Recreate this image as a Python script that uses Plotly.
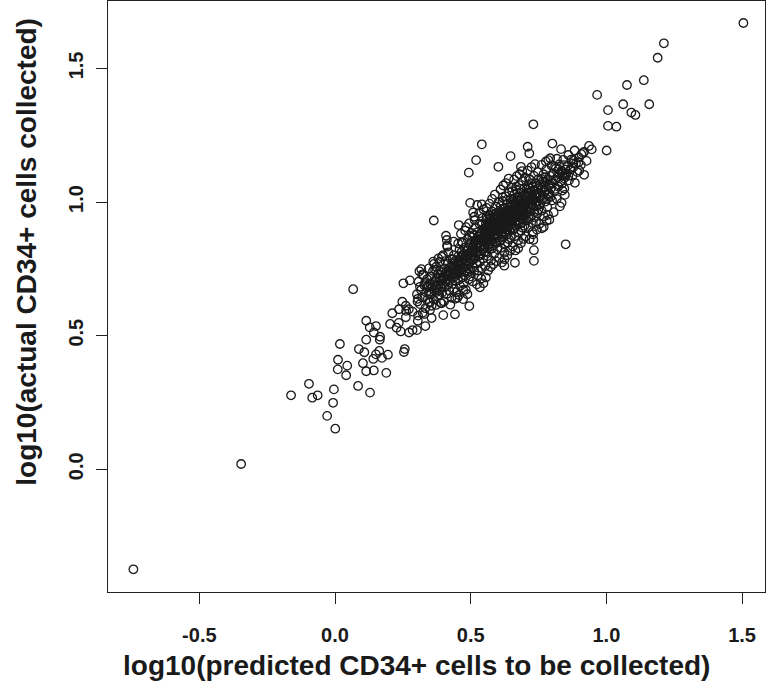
import plotly.graph_objects as go

# (predicted, actual) pairs, grouped by region
tail_pts = [
    (-0.743, -0.374), (-0.346, 0.020),
    (-0.162, 0.277), (-0.096, 0.320), (-0.084, 0.268), (-0.064, 0.277),
    (-0.004, 0.299), (-0.007, 0.249), (-0.029, 0.200), (0.001, 0.152),
    (0.018, 0.469), (0.011, 0.410), (0.010, 0.374), (0.045, 0.388),
    (0.041, 0.352), (0.085, 0.312), (0.129, 0.287), (0.088, 0.450),
    (0.108, 0.438), (0.103, 0.397), (0.115, 0.367), (0.143, 0.370),
    (0.189, 0.361), (0.115, 0.485), (0.165, 0.485), (0.141, 0.413),
    (0.151, 0.430), (0.163, 0.443), (0.173, 0.417), (0.195, 0.429),
    (0.115, 0.556), (0.128, 0.531), (0.151, 0.536), (0.143, 0.512),
    (0.257, 0.450), (0.254, 0.439), (0.203, 0.544), (0.227, 0.530),
    (0.211, 0.584), (0.236, 0.599), (0.235, 0.548), (0.248, 0.627),
    (0.261, 0.612), (0.262, 0.593), (0.272, 0.599), (0.286, 0.590),
    (0.261, 0.569), (0.242, 0.516), (0.273, 0.512), (0.286, 0.521),
    (0.302, 0.521), (0.305, 0.638), (0.306, 0.575), (0.305, 0.556),
    (0.333, 0.536), (0.329, 0.581), (0.356, 0.566), (0.350, 0.596),
    (0.348, 0.625), (0.372, 0.615), (0.351, 0.664), (0.375, 0.664),
    (0.067, 0.674), (0.166, 0.496),
]

mid_pts = [
    (0.364, 0.931), (0.498, 0.997), (0.456, 0.914), (0.409, 0.874),
    (0.412, 0.858), (0.414, 0.833), (0.483, 0.906), (0.494, 0.920),
    (0.513, 0.945), (0.541, 0.991), (0.524, 0.989), (0.571, 0.949),
    (0.454, 0.845), (0.468, 0.851), (0.434, 0.786), (0.394, 0.795),
    (0.381, 0.789), (0.362, 0.777), (0.369, 0.746), (0.387, 0.742),
    (0.318, 0.749), (0.321, 0.728), (0.276, 0.707), (0.252, 0.696),
    (0.313, 0.683), (0.350, 0.696), (0.393, 0.621), (0.399, 0.577),
    (0.442, 0.580), (0.451, 0.642), (0.495, 0.611), (0.473, 0.671),
    (0.534, 0.681), (0.547, 0.696), (0.556, 0.718), (0.624, 0.762),
]

upper_pts = [
    (1.505, 1.670), (1.212, 1.594), (1.189, 1.540), (1.138, 1.456),
    (1.076, 1.438), (0.966, 1.401), (1.062, 1.366), (1.158, 1.366),
    (1.006, 1.344), (1.092, 1.335), (1.107, 1.326), (1.006, 1.285),
    (1.037, 1.282), (0.936, 1.210), (1.001, 1.193), (0.918, 1.188),
    (0.908, 1.179), (0.883, 1.193), (0.860, 1.176), (0.833, 1.198),
    (0.878, 1.157), (0.878, 1.145), (0.897, 1.148), (0.844, 1.138),
    (0.900, 1.118), (0.918, 1.102), (0.860, 1.098), (0.839, 1.107),
    (0.848, 1.098),
    (0.731, 1.291), (0.541, 1.216), (0.520, 1.157), (0.493, 1.110),
    (0.647, 1.172), (0.710, 1.207), (0.716, 1.182), (0.801, 1.219),
    (0.786, 1.157), (0.811, 1.132), (0.602, 1.132), (0.685, 1.132),
    (0.850, 0.842), (0.733, 0.780), (0.663, 0.773), (0.733, 0.820),
    (0.731, 0.858), (0.780, 0.930), (0.762, 0.902), (0.835, 0.997),
]

core_low = [
    (0.302, 0.655), (0.308, 0.702), (0.313, 0.618), (0.317, 0.671), (0.321, 0.644),
    (0.326, 0.728), (0.329, 0.689), (0.333, 0.603), (0.336, 0.662), (0.339, 0.711),
    (0.342, 0.637), (0.344, 0.684), (0.346, 0.752), (0.347, 0.659), (0.349, 0.623),
    (0.311, 0.741), (0.323, 0.586), (0.338, 0.679), (0.304, 0.628), (0.331, 0.697),
    (0.352, 0.693), (0.354, 0.655), (0.357, 0.721), (0.359, 0.678), (0.361, 0.742),
    (0.363, 0.636), (0.366, 0.704), (0.368, 0.667), (0.371, 0.689), (0.373, 0.758),
    (0.375, 0.713), (0.377, 0.648), (0.379, 0.731), (0.381, 0.692), (0.383, 0.671),
    (0.386, 0.776), (0.388, 0.708), (0.389, 0.623), (0.391, 0.684), (0.393, 0.737),
    (0.395, 0.662), (0.397, 0.719), (0.398, 0.801), (0.356, 0.612), (0.365, 0.769),
    (0.374, 0.682), (0.384, 0.652), (0.396, 0.695),
    (0.401, 0.718), (0.403, 0.752), (0.404, 0.681), (0.406, 0.734), (0.407, 0.779),
    (0.409, 0.703), (0.411, 0.655), (0.412, 0.741), (0.414, 0.712), (0.415, 0.768),
    (0.417, 0.691), (0.418, 0.812), (0.420, 0.727), (0.421, 0.669), (0.423, 0.755),
    (0.424, 0.708), (0.426, 0.737), (0.427, 0.786), (0.429, 0.642), (0.430, 0.721),
    (0.432, 0.762), (0.433, 0.694), (0.435, 0.745), (0.436, 0.717), (0.438, 0.801),
    (0.439, 0.676), (0.441, 0.733), (0.442, 0.759), (0.444, 0.704), (0.445, 0.782),
    (0.447, 0.728), (0.448, 0.663), (0.449, 0.748), (0.402, 0.628), (0.413, 0.838),
    (0.425, 0.616), (0.437, 0.852), (0.443, 0.638), (0.416, 0.727), (0.434, 0.771),
]

core_mid = [
    (0.451, 0.763), (0.452, 0.731), (0.454, 0.797), (0.455, 0.708), (0.456, 0.774),
    (0.458, 0.749), (0.459, 0.823), (0.461, 0.686), (0.462, 0.759), (0.463, 0.792),
    (0.465, 0.737), (0.466, 0.812), (0.467, 0.771), (0.469, 0.718), (0.470, 0.846),
    (0.471, 0.783), (0.473, 0.754), (0.474, 0.694), (0.475, 0.806), (0.477, 0.766),
    (0.478, 0.829), (0.479, 0.741), (0.481, 0.788), (0.482, 0.672), (0.483, 0.759),
    (0.485, 0.817), (0.486, 0.778), (0.487, 0.734), (0.489, 0.861), (0.490, 0.795),
    (0.491, 0.752), (0.493, 0.711), (0.494, 0.808), (0.495, 0.772), (0.497, 0.839),
    (0.498, 0.747), (0.499, 0.786), (0.457, 0.652), (0.464, 0.881), (0.472, 0.637),
    (0.480, 0.893), (0.488, 0.655), (0.496, 0.874), (0.453, 0.779), (0.460, 0.741),
    (0.468, 0.801), (0.476, 0.726), (0.484, 0.799), (0.492, 0.829), (0.500, 0.722),
    (0.501, 0.812), (0.502, 0.849), (0.504, 0.781), (0.505, 0.826), (0.506, 0.868),
    (0.508, 0.757), (0.509, 0.834), (0.510, 0.803), (0.512, 0.877), (0.513, 0.742),
    (0.514, 0.819), (0.516, 0.852), (0.517, 0.791), (0.518, 0.906), (0.520, 0.838),
    (0.521, 0.769), (0.522, 0.861), (0.524, 0.814), (0.525, 0.887), (0.526, 0.726),
    (0.528, 0.843), (0.529, 0.798), (0.530, 0.871), (0.532, 0.829), (0.533, 0.918),
    (0.534, 0.776), (0.536, 0.855), (0.537, 0.808), (0.538, 0.883), (0.540, 0.839),
    (0.541, 0.752), (0.542, 0.867), (0.544, 0.821), (0.545, 0.941), (0.546, 0.789),
    (0.548, 0.852), (0.549, 0.896), (0.507, 0.703), (0.515, 0.932), (0.523, 0.692),
    (0.531, 0.957), (0.539, 0.714), (0.547, 0.973), (0.503, 0.885), (0.511, 0.786),
    (0.519, 0.815), (0.527, 0.858), (0.535, 0.836), (0.543, 0.897), (0.550, 0.812),
    (0.509, 0.961), (0.527, 0.744), (0.541, 0.918), (0.518, 0.841), (0.536, 0.801),
    (0.551, 0.867), (0.552, 0.903), (0.553, 0.834), (0.555, 0.881), (0.556, 0.921),
    (0.557, 0.812), (0.558, 0.892), (0.560, 0.856), (0.561, 0.936), (0.562, 0.798),
    (0.563, 0.874), (0.565, 0.909), (0.566, 0.845), (0.567, 0.952), (0.568, 0.886),
    (0.570, 0.823), (0.571, 0.917), (0.572, 0.868), (0.573, 0.899), (0.575, 0.781),
    (0.576, 0.931), (0.577, 0.857), (0.578, 0.887), (0.580, 0.964), (0.581, 0.838),
    (0.582, 0.904), (0.583, 0.872), (0.585, 0.946), (0.586, 0.806), (0.587, 0.893),
    (0.588, 0.861), (0.590, 0.924), (0.591, 0.879), (0.592, 0.983), (0.593, 0.846),
    (0.595, 0.911), (0.596, 0.869), (0.597, 0.937), (0.598, 0.824), (0.599, 0.897),
    (0.554, 0.761), (0.559, 0.978), (0.564, 0.744), (0.569, 0.994), (0.574, 0.757),
    (0.579, 1.012), (0.584, 0.768), (0.589, 1.028), (0.594, 0.779), (0.600, 0.951),
    (0.551, 0.898), (0.556, 0.853), (0.561, 0.885), (0.566, 0.872), (0.571, 0.843),
    (0.576, 0.896), (0.581, 0.918), (0.586, 0.877), (0.591, 0.853), (0.596, 0.902),
    (0.558, 0.944), (0.563, 0.829), (0.568, 0.909), (0.573, 0.939), (0.578, 0.826),
    (0.583, 0.952), (0.588, 0.914), (0.593, 0.958), (0.598, 0.868), (0.572, 0.881),
]

core_high = [
    (0.601, 0.914), (0.602, 0.948), (0.603, 0.876), (0.604, 0.927), (0.606, 0.967),
    (0.607, 0.852), (0.608, 0.938), (0.609, 0.903), (0.611, 0.985), (0.612, 0.829),
    (0.613, 0.921), (0.614, 0.957), (0.616, 0.889), (0.617, 1.004), (0.618, 0.934),
    (0.619, 0.868), (0.621, 0.961), (0.622, 0.912), (0.623, 0.946), (0.624, 0.811),
    (0.626, 0.978), (0.627, 0.903), (0.628, 0.932), (0.629, 1.021), (0.631, 0.884),
    (0.632, 0.951), (0.633, 0.917), (0.634, 0.993), (0.636, 0.849), (0.637, 0.938),
    (0.638, 0.906), (0.639, 0.972), (0.641, 0.925), (0.642, 1.036), (0.643, 0.893),
    (0.644, 0.957), (0.646, 0.914), (0.647, 0.983), (0.648, 0.867), (0.649, 0.941),
    (0.605, 0.791), (0.610, 1.047), (0.615, 0.774), (0.620, 1.062), (0.625, 0.786),
    (0.630, 1.071), (0.635, 0.801), (0.640, 1.088), (0.645, 0.818), (0.650, 1.054),
    (0.601, 0.942), (0.604, 0.897), (0.608, 0.962), (0.612, 0.918), (0.616, 0.941),
    (0.619, 0.903), (0.623, 0.976), (0.627, 0.926), (0.631, 0.945), (0.635, 0.962),
    (0.638, 0.929), (0.642, 0.947), (0.646, 0.956), (0.649, 0.902), (0.603, 0.999),
    (0.611, 0.858), (0.618, 1.018), (0.626, 0.844), (0.633, 1.008), (0.641, 0.861),
    (0.648, 1.012), (0.613, 0.953), (0.621, 0.927), (0.628, 0.964), (0.636, 0.898),
    (0.644, 0.928), (0.607, 0.908), (0.624, 0.889), (0.639, 0.952), (0.632, 0.877),
    (0.651, 0.958), (0.652, 0.991), (0.653, 0.921), (0.654, 0.972), (0.656, 1.012),
    (0.657, 0.896), (0.658, 0.981), (0.659, 0.944), (0.661, 1.029), (0.662, 0.872),
    (0.663, 0.963), (0.664, 0.998), (0.666, 0.931), (0.667, 1.047), (0.668, 0.978),
    (0.669, 0.912), (0.671, 1.006), (0.672, 0.955), (0.673, 0.989), (0.674, 0.856),
    (0.676, 1.021), (0.677, 0.946), (0.678, 0.975), (0.679, 1.063), (0.681, 0.927),
    (0.682, 0.994), (0.683, 0.961), (0.684, 1.036), (0.686, 0.893), (0.687, 0.982),
    (0.688, 0.949), (0.689, 1.014), (0.691, 0.968), (0.692, 1.078), (0.693, 0.936),
    (0.694, 0.999), (0.696, 0.957), (0.697, 1.026), (0.698, 0.911), (0.699, 0.984),
    (0.655, 0.834), (0.660, 1.084), (0.665, 0.819), (0.670, 1.097), (0.675, 0.827),
    (0.680, 1.104), (0.685, 0.846), (0.690, 1.116), (0.695, 0.862), (0.700, 1.092),
    (0.651, 0.987), (0.654, 0.943), (0.658, 1.003), (0.662, 0.958), (0.666, 0.985),
    (0.669, 0.947), (0.673, 1.018), (0.677, 0.969), (0.681, 0.988), (0.685, 1.005),
    (0.688, 0.972), (0.692, 0.991), (0.696, 1.001), (0.699, 0.948), (0.653, 1.041),
    (0.661, 0.901), (0.668, 1.058), (0.676, 0.887), (0.683, 1.049), (0.691, 0.904),
    (0.698, 1.052), (0.663, 0.994), (0.671, 0.969), (0.678, 1.007), (0.686, 0.941),
    (0.694, 0.973), (0.657, 0.952), (0.674, 0.932), (0.689, 0.996), (0.682, 0.919),
]

core_top = [
    (0.701, 0.993), (0.702, 1.027), (0.704, 0.956), (0.705, 1.008), (0.706, 1.048),
    (0.708, 0.931), (0.709, 1.016), (0.711, 0.979), (0.712, 1.064), (0.713, 0.907),
    (0.715, 0.998), (0.716, 1.034), (0.718, 0.966), (0.719, 1.083), (0.721, 1.012),
    (0.722, 0.946), (0.723, 1.041), (0.725, 0.989), (0.726, 1.024), (0.728, 0.888),
    (0.729, 1.057), (0.731, 0.981), (0.732, 1.011), (0.733, 1.098), (0.735, 0.962),
    (0.736, 1.029), (0.738, 0.996), (0.739, 1.071), (0.741, 0.927), (0.742, 1.017),
    (0.743, 0.984), (0.745, 1.049), (0.746, 1.003), (0.748, 1.112), (0.749, 0.971),
    (0.703, 0.872), (0.710, 1.118), (0.717, 0.861), (0.724, 1.131), (0.730, 0.879),
    (0.737, 1.142), (0.744, 0.897), (0.750, 1.086), (0.707, 1.001), (0.714, 1.036),
    (0.720, 0.982), (0.727, 1.005), (0.734, 1.044), (0.740, 1.001), (0.747, 1.032),
    (0.705, 0.972), (0.719, 1.051), (0.733, 0.944), (0.746, 0.958), (0.712, 0.943),
    (0.726, 1.069), (0.739, 1.026), (0.715, 1.087), (0.729, 0.921), (0.743, 1.061),
    (0.752, 1.031), (0.754, 1.066), (0.756, 0.991), (0.758, 1.045), (0.760, 1.087),
    (0.762, 0.968), (0.764, 1.052), (0.766, 1.013), (0.768, 1.104), (0.770, 0.946),
    (0.772, 1.037), (0.774, 1.074), (0.776, 1.002), (0.778, 1.121), (0.780, 1.048),
    (0.782, 0.981), (0.784, 1.083), (0.786, 1.026), (0.788, 1.061), (0.790, 0.934),
    (0.792, 1.098), (0.794, 1.019), (0.796, 1.052), (0.798, 1.137), (0.800, 1.006),
    (0.753, 0.918), (0.761, 1.139), (0.769, 0.907), (0.777, 1.152), (0.785, 0.952),
    (0.793, 1.164), (0.757, 1.021), (0.765, 1.077), (0.773, 1.058), (0.781, 1.011),
    (0.789, 1.033), (0.797, 1.081), (0.759, 1.009), (0.775, 1.093), (0.791, 1.068),
    (0.802, 1.071), (0.805, 1.108), (0.808, 1.039), (0.811, 1.084), (0.814, 1.126),
    (0.817, 1.012), (0.820, 1.093), (0.823, 1.058), (0.826, 1.141), (0.829, 0.984),
    (0.832, 1.077), (0.835, 1.116), (0.838, 1.043), (0.841, 1.158), (0.844, 1.089),
    (0.847, 1.027), (0.849, 1.121), (0.806, 0.962), (0.818, 1.162), (0.827, 1.104),
    (0.836, 1.069), (0.845, 1.051), (0.812, 1.049), (0.824, 1.122), (0.839, 1.097),
    (0.853, 1.104), (0.858, 1.137), (0.862, 1.081), (0.867, 1.122), (0.871, 1.159),
    (0.875, 1.098), (0.879, 1.131), (0.884, 1.072), (0.888, 1.145), (0.893, 1.112),
    (0.899, 1.167), (0.906, 1.139), (0.914, 1.184), (0.927, 1.154), (0.946, 1.197),
]

core_dense = [
    (0.562, 0.902), (0.569, 0.927), (0.577, 0.913), (0.584, 0.936), (0.589, 0.897),
    (0.594, 0.929), (0.599, 0.944), (0.606, 0.921), (0.611, 0.938), (0.617, 0.917),
    (0.622, 0.956), (0.626, 0.936), (0.631, 0.927), (0.636, 0.948), (0.641, 0.939),
    (0.646, 0.968), (0.652, 0.944), (0.657, 0.969), (0.662, 0.982), (0.667, 0.961),
    (0.672, 0.978), (0.677, 0.993), (0.683, 0.977), (0.688, 0.988), (0.694, 1.012),
    (0.699, 0.996), (0.704, 1.019), (0.711, 1.004), (0.717, 1.022), (0.724, 1.013),
    (0.372, 0.702), (0.385, 0.716), (0.397, 0.707), (0.408, 0.726), (0.419, 0.742),
    (0.428, 0.731), (0.437, 0.757), (0.446, 0.743), (0.455, 0.768), (0.464, 0.776),
    (0.473, 0.788), (0.482, 0.779), (0.491, 0.801), (0.502, 0.797), (0.513, 0.826),
    (0.524, 0.832), (0.535, 0.847), (0.546, 0.861), (0.557, 0.872), (0.568, 0.866),
]

x_ticks = [-0.5, 0.0, 0.5, 1.0, 1.5]
x_tick_labels = ["-0.5", "0.0", "0.5", "1.0", "1.5"]
y_ticks = [0.0, 0.5, 1.0, 1.5]
y_tick_labels = ["0.0", "0.5", "1.0", "1.5"]
x_title = "log10(predicted CD34+ cells to be collected)"
y_title = "log10(actual CD34+ cells collected)"

all_pts = (tail_pts + mid_pts + upper_pts + core_low + core_mid
           + core_high + core_top + core_dense)
pred = [p[0] for p in all_pts]
actual = [p[1] for p in all_pts]

FONT = "Liberation Sans, Arial, sans-serif"
INK = "#1a1a1a"

fig = go.Figure(go.Scatter(
    x=pred, y=actual, mode="markers",
    marker=dict(symbol="circle-open", size=8.5, color=INK, line=dict(width=1.3, color=INK)),
    hoverinfo="skip",
))

axis_common = dict(
    showgrid=False, zeroline=False, showline=True, linecolor="#222", linewidth=1,
    mirror=True, ticks="outside", ticklen=11, tickwidth=1, tickcolor="#222",
    automargin=False,
    tickfont=dict(family=FONT, size=20, color=INK, weight="bold"),
)

fig.update_xaxes(range=[-0.8366, 1.5846], tickvals=x_ticks, ticktext=x_tick_labels,
                 ticklabelstandoff=14, **axis_common)
fig.update_yaxes(range=[-0.459, 1.7523], tickvals=y_ticks, ticktext=y_tick_labels,
                 tickangle=-90, ticklabelstandoff=5, **axis_common)

fig.update_layout(
    width=768, height=689,
    margin=dict(l=108, r=3, t=1, b=97, autoexpand=False),
    plot_bgcolor="white", paper_bgcolor="white",
    showlegend=False,
    annotations=[
        dict(text=x_title, xref="paper", yref="paper", x=0.470, y=-0.1252,
             xanchor="center", yanchor="middle", showarrow=False,
             font=dict(family=FONT, size=28, color=INK, weight="bold")),
        dict(text=y_title, xref="paper", yref="paper", x=-0.124, y=0.575,
             xanchor="center", yanchor="middle", showarrow=False, textangle=-90,
             font=dict(family=FONT, size=28, color=INK, weight="bold")),
    ],
)

fig.write_html("out.html", config={"displayModeBar": False},
               post_script="document.body.style.margin='0';")
